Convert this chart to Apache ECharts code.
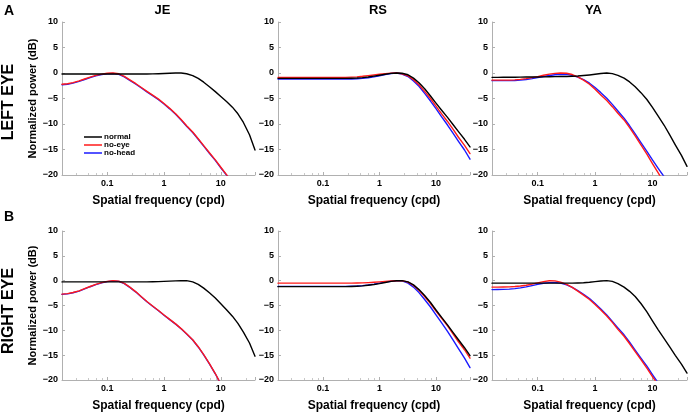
<!DOCTYPE html>
<html>
<head>
<meta charset="utf-8">
<script src="https://cdn.jsdelivr.net/npm/echarts@6/dist/echarts.min.js"></script>
<style>
html,body{margin:0;padding:0;background:#fff;}
#chart{width:688px;height:413px;}
</style>
</head>
<body>
<div id="chart"></div>
<script>
// Spatial frequencies (cpd) at which curves are sampled (about 0.1 decade apart)
const freqs = [0.016,0.02,0.025,0.032,0.04,0.05,0.063,0.08,0.1,0.126,0.16,0.2,0.25,0.32,0.4,0.5,0.63,0.8,1,1.26,1.6,2,2.5,3.2,4,5,6.3,8,10,12.6,16,20,25,32,40];

const subjects = ['JE', 'RS', 'YA'];
const eyes = ['LEFT EYE', 'RIGHT EYE'];
const panelLetters = ['A', 'B'];
const seriesNames = ['normal', 'no-eye', 'no-head'];
const xTickLabels = [0.1, 1, 10];
const yTicks = [-20, -15, -10, -5, 0, 5, 10];

// ---- LEFT EYE (dB) ----
const jeLeftNormal = [-0.2,-0.2,-0.2,-0.2,-0.2,-0.2,-0.2,-0.2,-0.2,-0.2,-0.2,-0.2,-0.2,-0.2,-0.2,-0.19,-0.17,-0.14,-0.1,-0.05,-0.01,0,-0.15,-0.5,-1.05,-1.8,-2.7,-3.65,-4.6,-5.6,-6.7,-8.0,-9.7,-12.1,-15.1];
const jeLeftNoEye  = [-2.2,-2.1,-1.88,-1.55,-1.17,-0.8,-0.47,-0.22,-0.06,0,-0.15,-0.65,-1.35,-2.1,-2.85,-3.6,-4.35,-5.13,-5.98,-6.93,-7.98,-9.13,-10.33,-11.58,-12.88,-14.23,-15.63,-17.03,-18.48,-19.93,-21.4,-22.9,-24.4,-25.9,-27.4];
const jeLeftNoHead = [-2.3,-2.2,-1.98,-1.65,-1.27,-0.9,-0.57,-0.32,-0.16,-0.1,-0.25,-0.75,-1.45,-2.2,-2.95,-3.7,-4.45,-5.23,-6.08,-7.03,-8.08,-9.23,-10.43,-11.68,-12.98,-14.33,-15.73,-17.13,-18.58,-20.03,-21.5,-23,-24.5,-26,-27.5];

const rsLeftNormal = [-1.05,-1.05,-1.05,-1.05,-1.05,-1.05,-1.05,-1.05,-1.05,-1.05,-1.05,-1.05,-1.05,-1.02,-0.98,-0.9,-0.78,-0.62,-0.45,-0.25,-0.08,0,-0.05,-0.35,-1.0,-1.9,-3.1,-4.5,-5.9,-7.3,-8.7,-10.1,-11.5,-13.0,-14.5];
const rsLeftNoEye  = [-0.85,-0.85,-0.85,-0.85,-0.85,-0.85,-0.85,-0.85,-0.85,-0.85,-0.85,-0.85,-0.85,-0.8,-0.75,-0.65,-0.52,-0.38,-0.25,-0.12,-0.03,0,-0.15,-0.55,-1.3,-2.3,-3.6,-5.0,-6.5,-8.0,-9.5,-11.0,-12.6,-14.2,-15.8];
const rsLeftNoHead = [-1.2,-1.2,-1.2,-1.2,-1.2,-1.2,-1.2,-1.2,-1.2,-1.2,-1.2,-1.2,-1.2,-1.18,-1.13,-1.05,-0.92,-0.75,-0.55,-0.32,-0.1,0,-0.2,-0.7,-1.55,-2.6,-4.0,-5.5,-7.0,-8.6,-10.2,-11.8,-13.4,-15.1,-16.9];

const yaLeftNormal = [-0.85,-0.85,-0.84,-0.83,-0.82,-0.8,-0.79,-0.78,-0.77,-0.75,-0.74,-0.72,-0.7,-0.68,-0.65,-0.6,-0.5,-0.38,-0.25,-0.1,0,-0.12,-0.45,-1.0,-1.75,-2.7,-3.85,-5.2,-6.75,-8.45,-10.25,-12.15,-14.1,-16.15,-18.3];
const yaLeftNoEye  = [-1.4,-1.4,-1.4,-1.4,-1.35,-1.25,-1.1,-0.9,-0.7,-0.45,-0.22,-0.07,0,-0.05,-0.3,-0.75,-1.4,-2.2,-3.2,-4.3,-5.4,-6.6,-7.9,-9.2,-10.7,-12.35,-14.1,-15.9,-17.75,-19.6,-21.5,-23.4,-25.3,-27.2,-29.1];
const yaLeftNoHead = [-1.5,-1.5,-1.5,-1.5,-1.48,-1.4,-1.28,-1.1,-0.9,-0.68,-0.48,-0.34,-0.27,-0.28,-0.45,-0.8,-1.3,-2.0,-2.85,-3.85,-4.95,-6.15,-7.45,-8.85,-10.35,-11.95,-13.65,-15.35,-17.05,-18.7,-20.35,-22,-23.7,-25.4,-27.1];

// ---- RIGHT EYE (dB) ----
const jeRightNormal = [-0.25,-0.25,-0.25,-0.25,-0.25,-0.25,-0.25,-0.25,-0.25,-0.25,-0.25,-0.25,-0.25,-0.25,-0.25,-0.24,-0.22,-0.2,-0.15,-0.1,-0.05,-0.01,0,-0.25,-0.75,-1.5,-2.45,-3.5,-4.65,-5.85,-7.15,-8.6,-10.35,-12.55,-15.2];
const jeRightNoEye  = [-2.7,-2.6,-2.38,-2.05,-1.62,-1.17,-0.75,-0.4,-0.14,0,-0.1,-0.55,-1.3,-2.25,-3.25,-4.2,-5.1,-6.0,-6.9,-7.8,-8.7,-9.65,-10.7,-11.9,-13.3,-14.9,-16.7,-18.7,-20.8,-23,-25.2,-27.4,-29.6,-31.8,-34];
const jeRightNoHead = [-2.75,-2.65,-2.43,-2.1,-1.67,-1.22,-0.8,-0.45,-0.19,-0.05,-0.15,-0.6,-1.35,-2.3,-3.3,-4.25,-5.15,-6.05,-6.95,-7.85,-8.75,-9.7,-10.75,-11.95,-13.35,-14.95,-16.75,-18.75,-20.85,-23,-25.2,-27.4,-29.6,-31.8,-34];

const rsRightNormal = [-1.2,-1.2,-1.2,-1.2,-1.2,-1.2,-1.2,-1.2,-1.2,-1.2,-1.2,-1.2,-1.2,-1.17,-1.12,-1.05,-0.93,-0.78,-0.6,-0.38,-0.15,-0.02,0,-0.25,-0.85,-1.8,-3.0,-4.4,-5.9,-7.4,-8.9,-10.4,-11.9,-13.5,-15.1];
const rsRightNoEye  = [-0.5,-0.5,-0.5,-0.5,-0.5,-0.5,-0.5,-0.5,-0.5,-0.5,-0.5,-0.5,-0.5,-0.49,-0.48,-0.45,-0.4,-0.33,-0.25,-0.15,-0.06,-0.01,0,-0.3,-0.95,-1.95,-3.2,-4.6,-6.1,-7.6,-9.1,-10.7,-12.3,-13.9,-15.6];
const rsRightNoHead = [-1.15,-1.15,-1.15,-1.15,-1.15,-1.15,-1.15,-1.15,-1.15,-1.15,-1.15,-1.15,-1.15,-1.12,-1.07,-0.99,-0.87,-0.7,-0.5,-0.3,-0.12,-0.02,-0.05,-0.5,-1.3,-2.4,-3.8,-5.3,-6.9,-8.5,-10.2,-11.9,-13.7,-15.6,-17.5];

const yaRightNormal = [-0.5,-0.5,-0.5,-0.5,-0.5,-0.5,-0.5,-0.5,-0.5,-0.5,-0.5,-0.5,-0.5,-0.5,-0.5,-0.47,-0.42,-0.33,-0.2,-0.07,0,-0.15,-0.6,-1.3,-2.15,-3.2,-4.6,-6.3,-8.1,-9.9,-11.65,-13.35,-15.05,-16.8,-18.6];
const yaRightNoEye  = [-1.3,-1.3,-1.28,-1.25,-1.18,-1.08,-0.92,-0.7,-0.45,-0.2,-0.03,-0.05,-0.3,-0.75,-1.35,-2.1,-2.9,-3.8,-4.8,-5.9,-7.1,-8.4,-9.8,-11.2,-12.7,-14.3,-15.9,-17.6,-19.3,-21.0,-22.7,-24.4,-26.1,-27.8,-29.5];
const yaRightNoHead = [-1.8,-1.78,-1.75,-1.7,-1.6,-1.45,-1.25,-1.0,-0.75,-0.52,-0.4,-0.38,-0.5,-0.85,-1.35,-2.0,-2.75,-3.6,-4.6,-5.7,-6.9,-8.2,-9.5,-10.9,-12.4,-14.0,-15.6,-17.2,-18.9,-20.6,-22.3,-24,-25.7,-27.4,-29.1];

const panelData = [
  [jeLeftNormal, jeLeftNoEye, jeLeftNoHead],
  [rsLeftNormal, rsLeftNoEye, rsLeftNoHead],
  [yaLeftNormal, yaLeftNoEye, yaLeftNoHead],
  [jeRightNormal, jeRightNoEye, jeRightNoHead],
  [rsRightNormal, rsRightNoEye, rsRightNoHead],
  [yaRightNormal, yaRightNoEye, yaRightNoHead]
];

const colors = {'normal': '#000000', 'no-eye': '#ff1a1a', 'no-head': '#1a1aff'};
const FONT = '"Liberation Sans", Arial, Helvetica, sans-serif';

const colLeft = [62, 278, 492];
const colWidth = [193, 192, 195];
const rowTop = [22, 231];
const rowHeight = 153;

const grids = [], xAxes = [], yAxes = [], series = [];
for (let r = 0; r < 2; r++) {
  for (let c = 0; c < 3; c++) {
    const idx = r * 3 + c;
    grids.push({left: colLeft[c], top: rowTop[r], width: colWidth[c], height: rowHeight, containLabel: false});
    xAxes.push({
      type: 'log', gridIndex: idx, min: 0.016, max: 40, logBase: 10, position: 'bottom',
      name: 'Spatial frequency (cpd)', nameLocation: 'middle', nameGap: 20,
      nameTextStyle: {fontFamily: FONT, fontWeight: 'bold', fontSize: 12, color: '#000'},
      axisLine: {show: true, onZero: false, lineStyle: {color: '#b0b0b0', width: 1}},
      axisTick: {show: true, inside: true, length: 3, lineStyle: {color: '#b0b0b0'}},
      minorTick: {show: true, splitNumber: 5, length: 2, lineStyle: {color: '#c8c8c8'}},
      splitLine: {show: false},
      axisLabel: {
        fontFamily: FONT, fontWeight: 'bold', fontSize: 9, color: '#000', margin: 4,
        showMinLabel: false, showMaxLabel: false,
        formatter: function (v) {
          for (const t of xTickLabels) { if (Math.abs(v - t) / t < 1e-6) return String(t); }
          return '';
        }
      }
    });
    yAxes.push({
      type: 'value', gridIndex: idx, min: -20, max: 10, interval: 5, position: 'left',
      name: c === 0 ? 'Normalized power (dB)' : '', nameLocation: 'middle', nameGap: 23,
      nameTextStyle: {fontFamily: FONT, fontWeight: 'bold', fontSize: 11, color: '#000'},
      axisLine: {show: true, onZero: false, lineStyle: {color: '#b0b0b0', width: 1}},
      axisTick: {show: true, inside: true, length: 3, lineStyle: {color: '#b0b0b0'}},
      splitLine: {show: false},
      axisLabel: {
        fontFamily: FONT, fontWeight: 'bold', fontSize: 9, color: '#000', margin: 4,
        formatter: function (v) { return yTicks.indexOf(v) >= 0 ? String(v).replace('-', '\u2212') : ''; }
      }
    });
    // draw order: no-head, no-eye, normal (normal on top)
    [2, 1, 0].forEach(function (k) {
      const vals = panelData[idx][k];
      series.push({
        name: seriesNames[k], type: 'line', xAxisIndex: idx, yAxisIndex: idx,
        data: freqs.map(function (f, i) { return [f, vals[i]]; }),
        showSymbol: false, symbol: 'none', smooth: false, clip: true,
        lineStyle: {color: colors[seriesNames[k]], width: 1.4, join: 'round', cap: 'round'},
        itemStyle: {color: colors[seriesNames[k]]},
        animation: false
      });
    });
  }
}

const graphics = [];
subjects.forEach(function (s, c) {
  graphics.push({type: 'text', x: colLeft[c] + colWidth[c] / 2 + 4, y: 10,
    style: {text: s, font: 'bold 13px ' + FONT, fill: '#000', textAlign: 'center', textVerticalAlign: 'middle'}});
});
panelLetters.forEach(function (L, r) {
  graphics.push({type: 'text', x: 9, y: r === 0 ? 11 : 217,
    style: {text: L, font: 'bold 14px ' + FONT, fill: '#000', textAlign: 'center', textVerticalAlign: 'middle'}});
});
eyes.forEach(function (e, r) {
  graphics.push({type: 'text', x: 9, y: r === 0 ? 102 : 311, rotation: Math.PI / 2,
    style: {text: e, font: 'bold 16px ' + FONT, fill: '#000', textAlign: 'center', textVerticalAlign: 'middle'}});
});

const chart = echarts.init(document.getElementById('chart'), null, {renderer: 'canvas'});
chart.setOption({
  animation: false,
  backgroundColor: '#fff',
  grid: grids, xAxis: xAxes, yAxis: yAxes, series: series,
  legend: {
    data: seriesNames, orient: 'vertical', left: 84, top: 133,
    icon: 'rect', itemWidth: 18, itemHeight: 1.5, itemGap: 0,
    textStyle: {fontFamily: FONT, fontWeight: 'bold', fontSize: 8, color: '#000', lineHeight: 7, padding: [0, 0, 0, -3]},
    padding: 0
  },
  graphic: graphics
});
</script>
</body>
</html>
